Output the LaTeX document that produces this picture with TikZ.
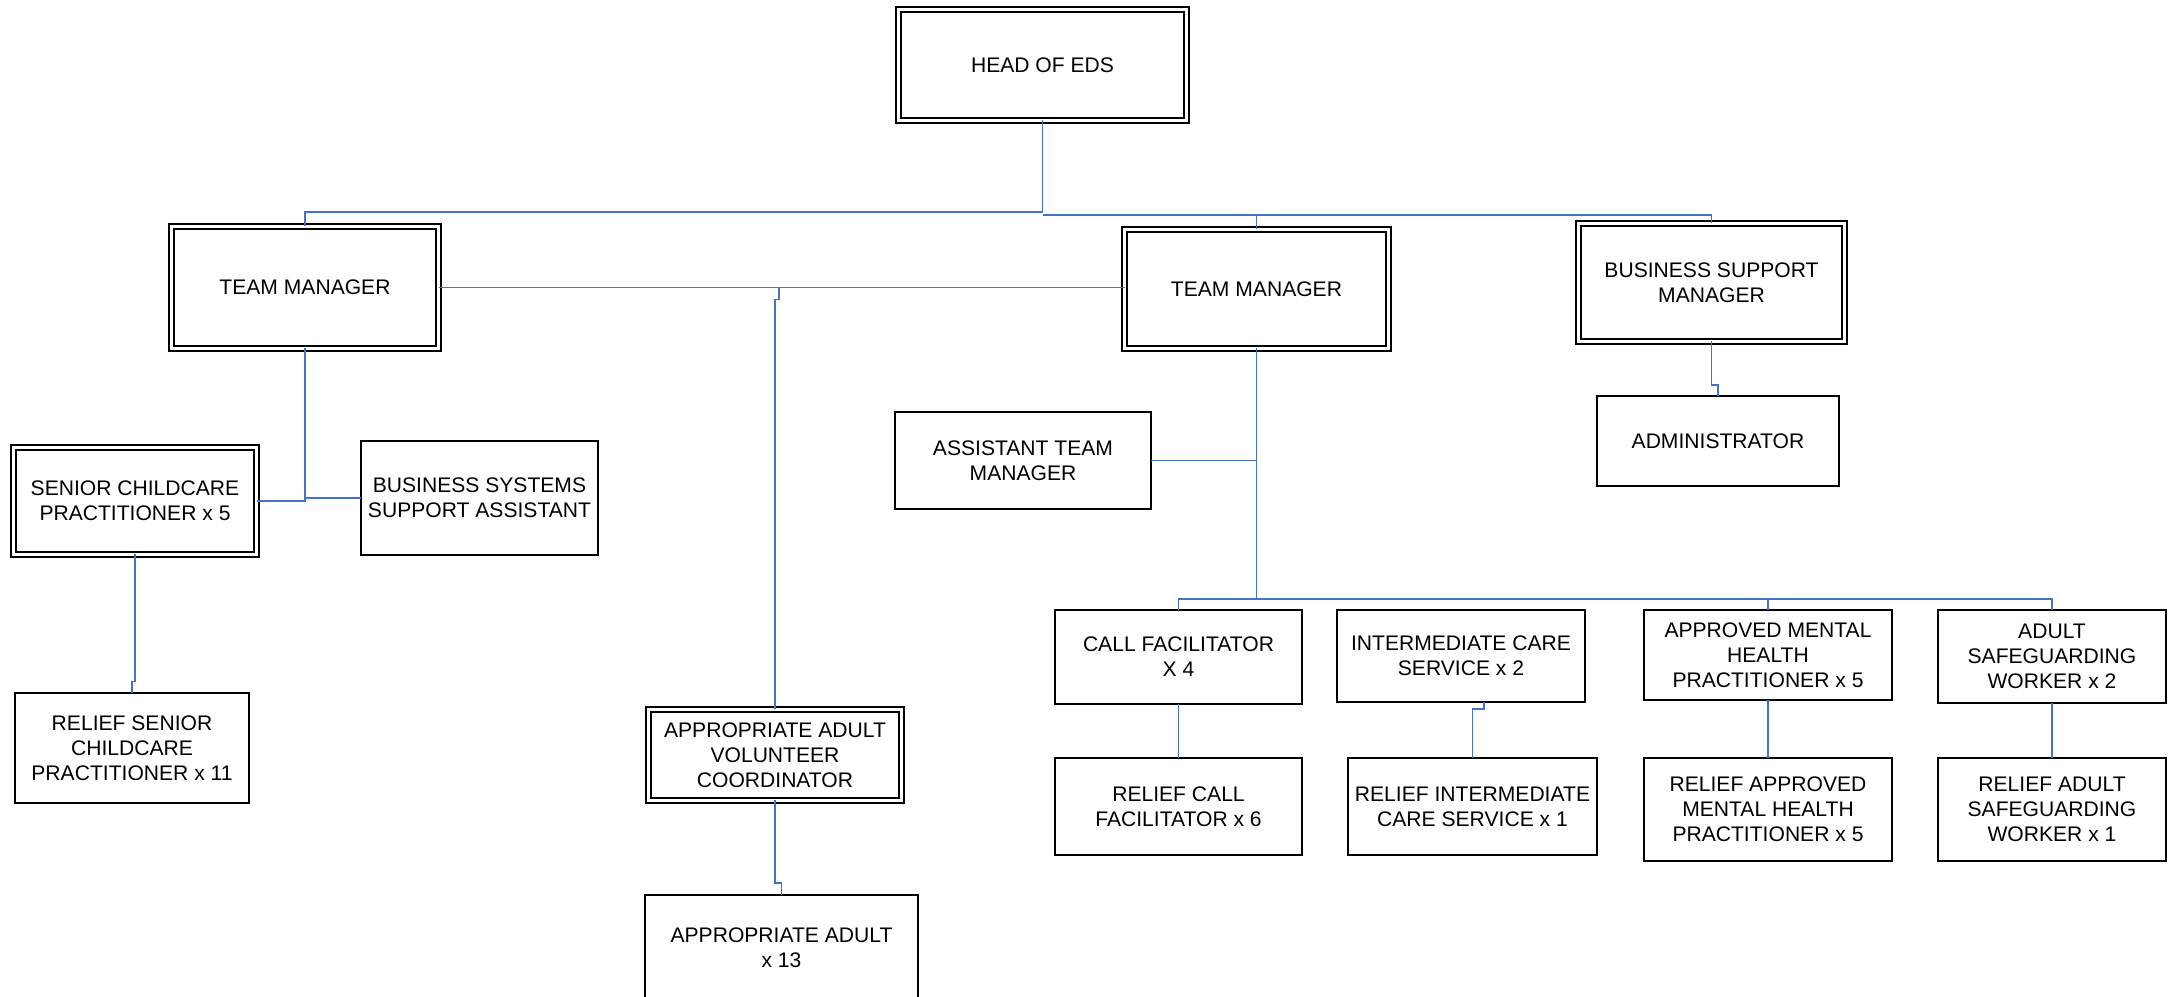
\documentclass[tikz,border=0pt]{standalone}
\usepackage{fontspec}
\setmainfont{Liberation Sans}
\usepackage{tikz}
\usetikzlibrary{positioning}
\definecolor{linkblue}{RGB}{68,114,196}
\newcommand{\orgfont}{\fontsize{6}{7.1}\selectfont}
\tikzset{orgbox/.style = {draw=black, rectangle, inner sep=1pt, outer sep=0pt, align=center, font=\orgfont}}
\tikzset{post/.style = {orgbox, line width=0.6pt}}
\tikzset{lead/.style = {orgbox, double, line width=0.48pt, double distance=0.96pt}}
\tikzset{boxsize/.style 2 args = {minimum width=#1cm, minimum height=#2cm}}
\tikzset{link/.style = {draw=linkblue, line width=0.45pt}}

\begin{document}
\begin{tikzpicture}
\useasboundingbox (0,0) rectangle (21.70,-9.97);
% heads
\node [lead, boxsize={2.88}{1.11}] (head) at (10.425,-0.65) {HEAD OF EDS};
\node [lead, boxsize={2.67}{1.22}] (tm1) at (3.05,-2.875) {TEAM MANAGER};
\node [lead, boxsize={2.64}{1.19}] (tm2) at (12.565,-2.89) {TEAM MANAGER};
\node [lead, boxsize={2.66}{1.18}] (bsm) at (17.115,-2.825) {BUSINESS SUPPORT\\MANAGER};
\node [post, boxsize={2.42}{0.90}] (admin) at (17.18,-4.41) {ADMINISTRATOR};

% left team
\node [lead, boxsize={2.43}{1.07}] (scp) at (1.35,-5.01) {SENIOR CHILDCARE\\PRACTITIONER x 5};
\node [post, boxsize={2.37}{1.14}] (bssa) at (4.795,-4.98) {BUSINESS SYSTEMS\\SUPPORT ASSISTANT};
\node [post, boxsize={2.34}{1.10}] (rscp) at (1.32,-7.48) {RELIEF SENIOR\\CHILDCARE\\PRACTITIONER x 11};
\node [lead, boxsize={2.53}{0.91}] (aavc) at (7.75,-7.55) {APPROPRIATE ADULT\\VOLUNTEER\\COORDINATOR};
\node [post, boxsize={2.73}{1.05}] (aa) at (7.815,-9.475) {APPROPRIATE ADULT\\x 13};

% right team
\node [post, boxsize={2.56}{0.97}] (atm) at (10.23,-4.605) {ASSISTANT TEAM\\MANAGER};
\node [post, boxsize={2.47}{0.94}] (cf) at (11.785,-6.57) {CALL FACILITATOR\\X 4};
\node [post, boxsize={2.48}{0.92}] (ics) at (14.61,-6.56) {INTERMEDIATE CARE\\SERVICE x 2};
\node [post, boxsize={2.48}{0.90}] (amhp) at (17.68,-6.55) {APPROVED MENTAL\\HEALTH\\PRACTITIONER x 5};
\node [post, boxsize={2.28}{0.93}] (asw) at (20.52,-6.565) {ADULT\\SAFEGUARDING\\WORKER x 2};
\node [post, boxsize={2.47}{0.97}] (rcf) at (11.785,-8.065) {RELIEF CALL\\FACILITATOR x 6};
\node [post, boxsize={2.49}{0.97}] (rics) at (14.725,-8.065) {RELIEF INTERMEDIATE\\CARE SERVICE x 1};
\node [post, boxsize={2.48}{1.03}] (ramhp) at (17.68,-8.095) {RELIEF APPROVED\\MENTAL HEALTH\\PRACTITIONER x 5};
\node [post, boxsize={2.28}{1.03}] (rasw) at (20.52,-8.095) {RELIEF ADULT\\SAFEGUARDING\\WORKER x 1};

% buses
\coordinate (lbus) at (0,-2.12);
\coordinate (rbus) at (0,-2.15);
\coordinate (rowbus) at (0,-5.99);

\draw [link] (head.south) -- (head.south |- lbus) -| (tm1.north);
\draw [link] (head.south |- rbus) -| (bsm.north);
\draw [link] (tm2.north) -- (tm2.north |- rbus);
\draw [link] (bsm.south) -- ++(0,-0.435) -| (admin.north);
\draw [link] (tm1.east) -- (tm1.east -| tm2.west);
\draw [link] (aavc.north) -- ++(0,4.1) -| ([xshift=0.04cm]aavc.north |- tm1.east);
\draw [link] (aavc.south) -- ++(0,-0.825) -| (aa.north);
\draw [link] (tm1.south) -- (tm1.south |- scp.east);
\draw [link] (scp.east) -- (scp.east -| tm1.south) |- (bssa.west);
\draw [link] (scp.south) -- ++(0,-1.27) -| (rscp.north);
\draw [link] (tm2.south) -- (tm2.south |- rowbus);
\draw [link] (atm.east) -- (atm.east -| tm2.south);
\draw [link] (cf.north) |- (rowbus -| asw.north) -- (asw.north);
\draw [link] (amhp.north) -- (amhp.north |- rowbus);
\draw [link] (cf.south) -- (rcf.north);
\draw [link] ([xshift=0.23cm]ics.south) -- ++(0,-0.07) -| (rics.north);
\draw [link] (amhp.south) -- (ramhp.north);
\draw [link] (asw.south) -- (rasw.north);
\end{tikzpicture}
\end{document}
